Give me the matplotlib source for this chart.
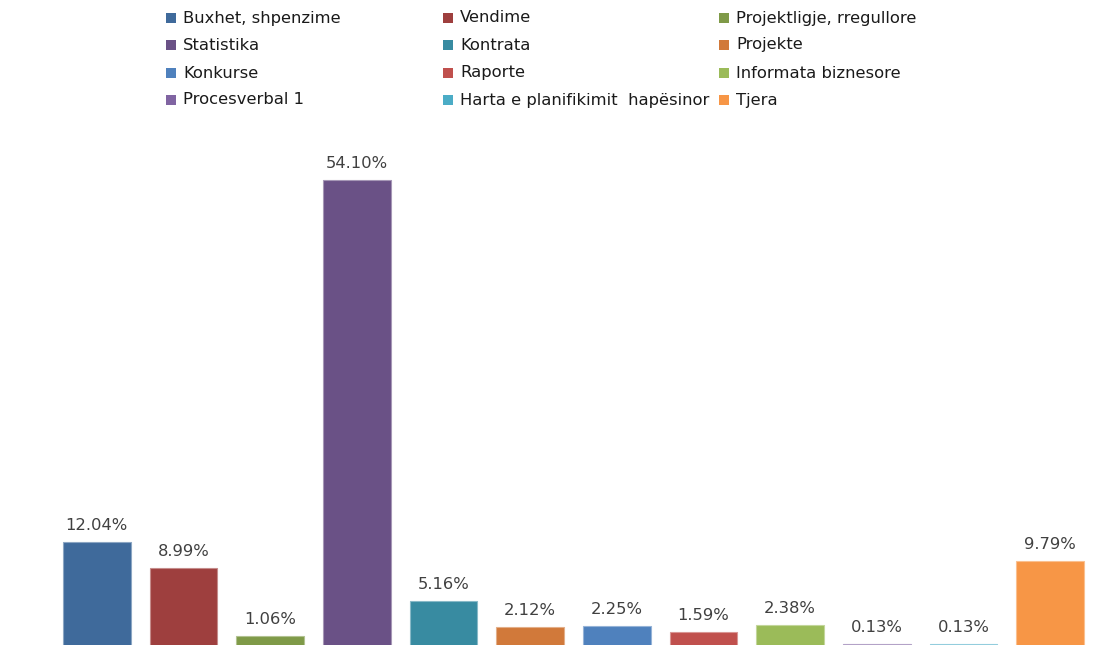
import matplotlib.pyplot as plt
from matplotlib.patches import Rectangle
from matplotlib.colors import to_rgb

categories = ["Buxhet, shpenzime", "Vendime", "Projektligje, rregullore",
              "Statistika", "Kontrata", "Projekte",
              "Konkurse", "Raporte", "Informata biznesore",
              "Procesverbal 1", "Harta e planifikimit  hapësinor", "Tjera"]
values = [12.04, 8.99, 1.06, 54.10, 5.16, 2.12, 2.25, 1.59, 2.38, 0.13, 0.13, 9.79]
colors = ["#3F6A9B", "#9E3F3E", "#7F9A48", "#6A5186", "#388BA1", "#D1793A",
          "#4F81BD", "#C0504D", "#9BBB59", "#8064A2", "#4BACC6", "#F79646"]

plt.rcParams['font.family'] = ['DejaVu Sans']
W, H = 1108, 645
fig = plt.figure(figsize=(W / 100, H / 100), dpi=100)

# plot area: slots 87 px wide, zero line at the bottom edge
ax = fig.add_axes([53.5 / W, -0.5 / H, 1040 / W, (645.5 - 140) / H])
x = range(len(values))
edges = [tuple(0.6 * ch + 0.4 for ch in to_rgb(c)) for c in colors]
ax.bar(x, values, width=0.78, color=colors, edgecolor=edges, linewidth=0.8)
ax.set_xlim(-0.5, len(values) - 0.5)
ax.set_ylim(0, (645.5 - 140) / 8.6)
ax.axis("off")

for i, v in enumerate(values):
    ax.annotate(f"{v:.2f}%", (i, v), xytext=(0, 6.5), textcoords="offset points",
                ha="center", va="bottom", fontsize=11.8, color="#404040")

# legend drawn by hand: 3 fixed-width columns, filled row by row
col_x = [166, 443, 719]
row_y = [18, 45, 73, 100]
for k, (name, c) in enumerate(zip(categories, colors)):
    r, col = divmod(k, 3)
    px, py = col_x[col], row_y[r]
    fig.patches.append(Rectangle((px / W, 1 - (py + 5) / H), 10 / W, 10 / H,
                                 transform=fig.transFigure, facecolor=c,
                                 edgecolor="none"))
    fig.text((px + 17) / W, 1 - py / H, name, ha="left", va="center",
             fontsize=11.8, color="#1a1a1a")

fig.savefig("out.png", dpi=100)
